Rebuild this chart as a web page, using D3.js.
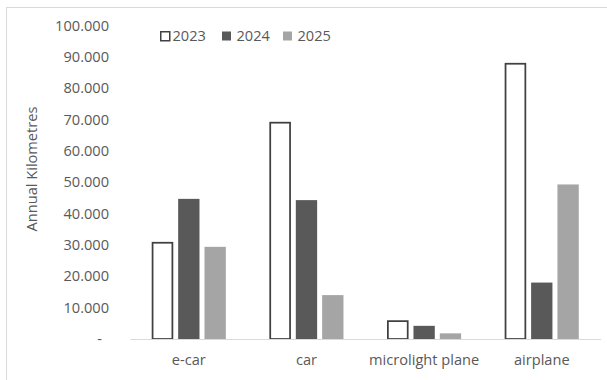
<!DOCTYPE html>
<html><head><meta charset="utf-8">
<script src="https://cdn.jsdelivr.net/npm/d3@7"></script>
<style>
html,body{margin:0;padding:0;background:#fff;}
svg{display:block;font-family:"Open Sans",sans-serif;}
</style></head>
<body>
<svg id="chart" width="607" height="380"></svg>
<script>
const categories = ["e-car", "car", "microlight plane", "airplane"];
const years = ["2023", "2024", "2025"];
const values2023 = [30700, 69000, 5700, 87800];
const values2024 = [44700, 44300, 4200, 18000];
const values2025 = [29400, 14000, 1800, 49300];
const yTicks = [0, 10000, 20000, 30000, 40000, 50000, 60000, 70000, 80000, 90000, 100000];
const yTitle = "Annual Kilometres";

const seriesValues = [values2023, values2024, values2025];
const fills = ["#ffffff", "#595959", "#a5a5a5"];
const strokes = ["#404040", "none", "none"];
const textColor = "#595959";
const fs = "14.6px";

const svg = d3.select("#chart");
const W = 607, H = 380;

// outer chart border (only top/left visible in the crop)
svg.append("line").attr("x1", 6.5).attr("x2", 6.5).attr("y1", 7).attr("y2", H).attr("stroke", "#d9d9d9");
svg.append("line").attr("x1", 6).attr("x2", W).attr("y1", 7.5).attr("y2", 7.5).attr("stroke", "#d9d9d9");

const plot = {left: 130, right: 600.6, top: 25.5, bottom: 339};

const y = d3.scaleLinear().domain([0, 100000]).range([plot.bottom, plot.top]);
const x0 = d3.scaleBand().domain(categories).range([plot.left, plot.right]).paddingInner(0).paddingOuter(0);
const groupW = 74;
const x1 = d3.scaleBand().domain(years).range([0, groupW]).paddingInner(0.19).paddingOuter(0);

const locale = d3.formatLocale({decimal: ",", thousands: ".", grouping: [3], currency: ["", ""]});
const fmt = locale.format(",.0f");

// y axis (labels only)
const yAxis = d3.axisLeft(y).tickValues(yTicks).tickSize(0).tickPadding(0)
  .tickFormat(d => d === 0 ? "-" : fmt(d));
const ga = svg.append("g").attr("transform", `translate(${109},0)`).call(yAxis);
ga.select(".domain").remove();
ga.selectAll("text").attr("fill", textColor).style("font-size", fs).style("font-family", "'Open Sans',sans-serif")
  .attr("x", d => d === 0 ? -7 : 0);

// bars
const groups = svg.append("g").selectAll("g").data(categories).join("g")
  .attr("transform", c => `translate(${x0(c) + (x0.bandwidth() - groupW) / 2},0)`);
groups.selectAll("rect").data((c, ci) => years.map((yr, si) => ({yr, si, v: seriesValues[si][ci]})))
  .join("rect")
  .attr("x", d => x1(d.yr) + (d.si === 0 ? 0.75 : 0))
  .attr("width", d => x1.bandwidth() - (d.si === 0 ? 1.5 : 0))
  .attr("y", d => y(d.v))
  .attr("height", d => y(0) - y(d.v))
  .attr("fill", d => fills[d.si])
  .attr("stroke", d => strokes[d.si])
  .attr("stroke-width", 1.75);

// x axis
const xAxis = d3.axisBottom(x0).tickSize(0).tickPadding(0);
const gx = svg.append("g").attr("transform", `translate(0,${plot.bottom})`).call(xAxis);
gx.select(".domain").attr("stroke", "#d9d9d9").attr("stroke-width", 1.2);
gx.selectAll("text").attr("fill", textColor).style("font-size", fs).style("font-family", "'Open Sans',sans-serif")
  .attr("y", 16);

// y title
svg.append("text").attr("transform", `translate(37,169) rotate(-90)`)
  .attr("text-anchor", "middle").attr("fill", textColor).style("font-size", fs)
  .text(yTitle);

// legend
const legendX = [160, 222, 283];
const lg = svg.append("g").selectAll("g").data(years).join("g")
  .attr("transform", (d, i) => `translate(${legendX[i]},31)`);
lg.append("rect").attr("x", (d, i) => i === 0 ? 0.75 : 0).attr("y", (d, i) => i === 0 ? 0.75 : 0.5)
  .attr("width", 9).attr("height", 9)
  .attr("fill", (d, i) => fills[i]).attr("stroke", (d, i) => strokes[i]).attr("stroke-width", 1.5);
lg.append("text").attr("x", (d, i) => i === 0 ? 12.5 : 14.5).attr("y", 5).attr("dy", "0.35em")
  .attr("fill", textColor).style("font-size", fs).text(d => d);
</script>
</body></html>
